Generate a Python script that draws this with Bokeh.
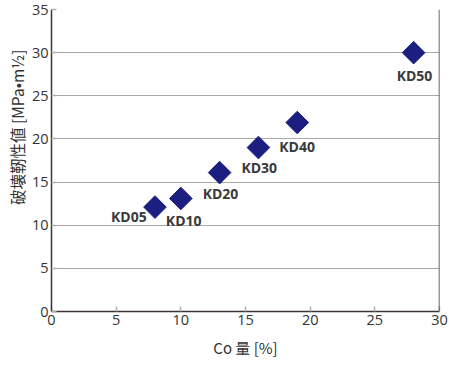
from bokeh.plotting import figure
from bokeh.models import ColumnDataSource, Range1d, FixedTicker, Span, Title
from bokeh.embed import file_html
from bokeh.resources import INLINE
from bokeh.core.properties import value
import math

labels = ["KD05", "KD10", "KD20", "KD30", "KD40", "KD50"]
co = [8, 10, 13, 16, 19, 28]
toughness = [12.1, 13.1, 16.1, 19.0, 21.9, 30.0]
label_dx = [-44, -15, -17, -17, -18, -17]
label_dy = [9, 22, 21, 20, 24, 23]

x_ticks = [0, 5, 10, 15, 20, 25, 30]
y_ticks = [0, 5, 10, 15, 20, 25, 30, 35]

src = ColumnDataSource(dict(x=co, y=toughness, t=labels, dx=label_dx, dy=label_dy))

p = figure(width=449, height=380, output_backend="svg", toolbar_location=None,
           x_range=Range1d(0, 30), y_range=Range1d(0, 35),
           min_border_left=51, min_border_right=10, min_border_top=9, min_border_bottom=69)

p.background_fill_color = "white"
p.border_fill_color = "white"
p.outline_line_color = None

p.xgrid.visible = False
p.ygrid.grid_line_color = "#a8a8a8"
p.ygrid.grid_line_width = 1.2
p.ygrid.ticker = FixedTicker(ticks=y_ticks)

for ax in (p.xaxis[0], p.yaxis[0]):
    ax.axis_line_color = "#3e3434"
    ax.axis_line_width = 1.5
    ax.major_tick_line_color = "#b0b0b0"
    ax.major_tick_line_width = 1.5
    ax.major_tick_in = 5
    ax.major_tick_out = 0
    ax.minor_tick_line_color = None
    ax.major_label_text_font = "Open Sans"
    ax.major_label_text_font_size = "14.5px"
    ax.major_label_text_color = "#333333"
    ax.axis_label_text_font = "Noto Sans CJK JP"
    ax.axis_label_text_font_size = "15px"
    ax.axis_label_text_font_style = "normal"
    ax.axis_label_text_color = "#333333"

p.xaxis.ticker = FixedTicker(ticks=x_ticks)
p.yaxis.ticker = FixedTicker(ticks=y_ticks)
p.xaxis.axis_label = "Co 量 [%]"
p.xaxis.major_label_standoff = 3
p.yaxis.major_label_standoff = 3
p.xaxis.axis_label_standoff = 9

ytitle = Title(text="破壊靭性値 [MPa•m½]", align="right", offset=40,
               text_font="Noto Sans CJK JP", text_font_size="15.5px",
               text_font_style="normal", text_color="#333333", standoff=2)
p.add_layout(ytitle, "left")

p.add_layout(Span(location=30, dimension="height", line_color="#3e3434", line_width=1.5))

p.scatter("x", "y", source=src, marker="square", size=16, angle=math.pi / 4,
          fill_color="#1c1f80", line_color="#1c1f80")

p.text("x", "y", text="t", source=src, x_offset="dx", y_offset="dy",
       text_font=value("Open Sans"), text_font_size="14px", text_color="#3a3a3a",
       text_font_style="bold", text_align="left", text_baseline="middle")

open("out.html", "w").write(file_html(p, INLINE))
